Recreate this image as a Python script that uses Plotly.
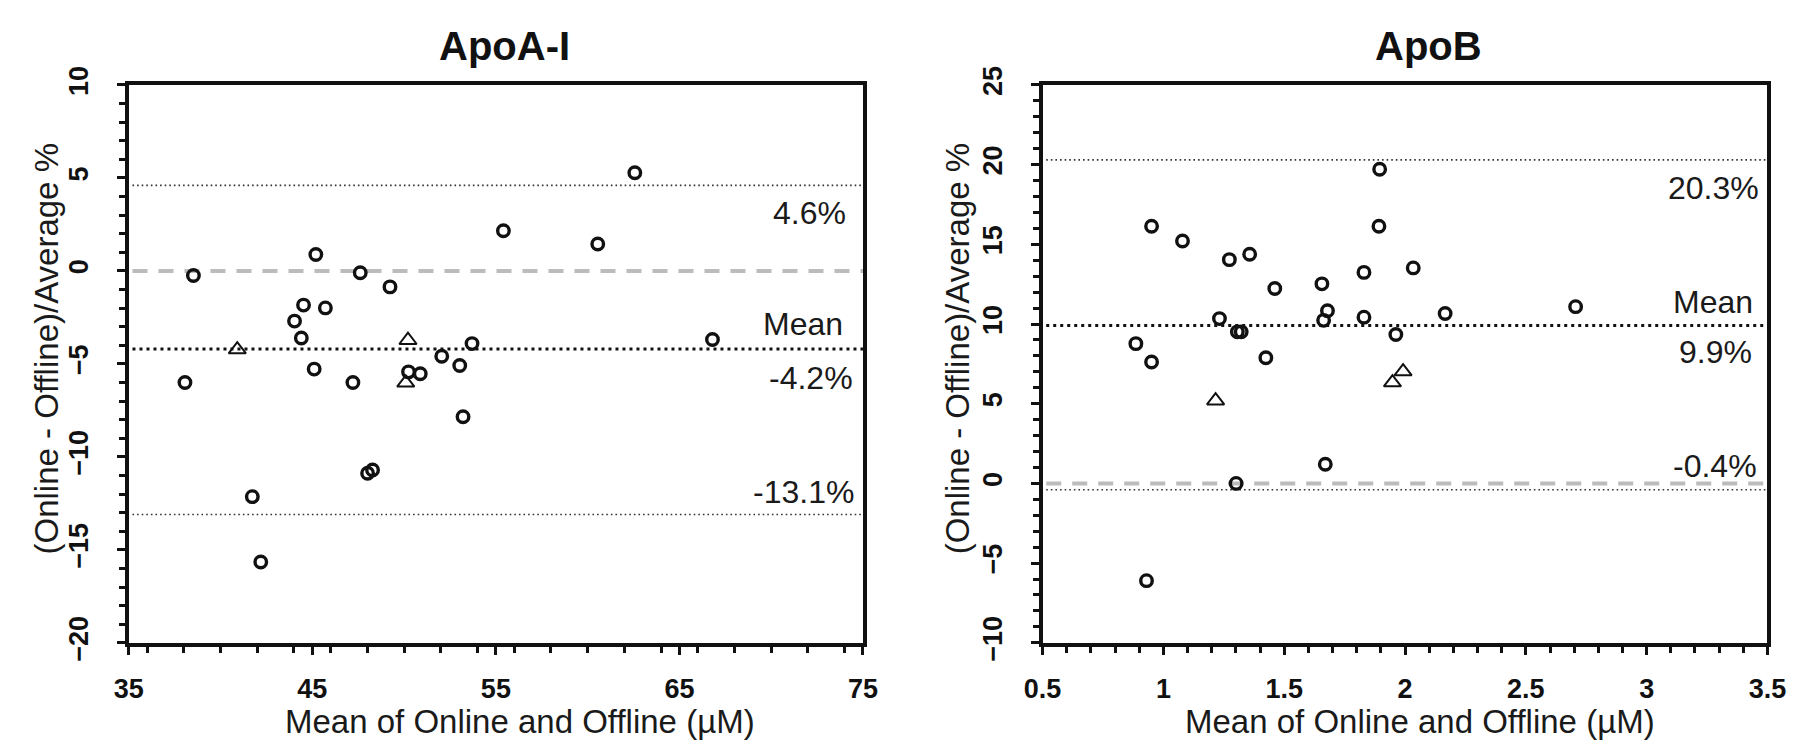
import plotly.graph_objects as go

# ---------------- data ----------------
# ApoA-I : circles
apoa_x = [38.06, 38.52, 41.73, 42.19, 44.03, 44.40, 44.52, 45.10, 45.19, 45.71,
          47.21, 47.61, 48.01, 48.28, 49.23, 50.24, 50.88, 52.05, 53.03, 53.21,
          53.70, 55.41, 60.55, 62.57, 66.80]
apoa_y = [-6.00, -0.25, -12.14, -15.65, -2.70, -3.61, -1.84, -5.28, 0.88, -1.99,
          -6.00, -0.10, -10.88, -10.71, -0.86, -5.43, -5.53, -4.59, -5.09, -7.84,
          -3.91, 2.16, 1.45, 5.28, -3.69]
# ApoA-I : triangles
apoa_tri_x = [40.91, 50.21, 50.09]
apoa_tri_y = [-4.23, -3.73, -6.02]
# ApoA-I : limits (upper, mean, lower)
apoa_upper, apoa_mean, apoa_lower = 4.6, -4.2, -13.1

# ApoB : circles
apob_x = [0.886, 0.930, 0.951, 0.951, 1.079, 1.232, 1.273, 1.301, 1.306, 1.322,
          1.357, 1.424, 1.461, 1.656, 1.663, 1.670, 1.679, 1.830, 1.830, 1.892,
          1.895, 1.962, 2.034, 2.166, 2.706]
apob_y = [8.77, -6.10, 16.13, 7.62, 15.21, 10.34, 14.04, 0.00, 9.51, 9.51,
          14.38, 7.88, 12.23, 12.52, 10.23, 1.20, 10.83, 13.24, 10.43, 16.13,
          19.71, 9.34, 13.52, 10.66, 11.09]
# ApoB : triangles
apob_tri_x = [1.216, 1.948, 1.992]
apob_tri_y = [5.19, 6.33, 7.02]
# ApoB : limits
apob_upper, apob_mean, apob_lower = 20.3, 9.9, -0.4

# ticks
apoa_xticks = [35, 45, 55, 65, 75]
apoa_yticks = [-20, -15, -10, -5, 0, 5, 10]
apob_xticks = [0.5, 1, 1.5, 2, 2.5, 3, 3.5]
apob_xticklabels = ["0.5", "1", "1.5", "2", "2.5", "3", "3.5"]
apob_yticks = [-10, -5, 0, 5, 10, 15, 20, 25]

titles = ["ApoA-I", "ApoB"]
x_title = "Mean of Online and Offline (µM)"
y_title = "(Online - Offline)/Average %"

# ---------------- figure ----------------
W, H = 1800, 754
FONT = "Liberation Sans, Arial, Helvetica, sans-serif"
INK = "#111111"

fig = go.Figure()

circle = dict(symbol="circle-open", size=11.5, color=INK, line=dict(width=3.4, color=INK))
tri = dict(symbol="triangle-up-open", size=15, color=INK, line=dict(width=2, color=INK))

fig.add_trace(go.Scatter(x=apoa_x, y=apoa_y, mode="markers", marker=circle,
                         xaxis="x", yaxis="y", showlegend=False))
fig.add_trace(go.Scatter(x=apoa_tri_x, y=apoa_tri_y, mode="markers", marker=tri,
                         xaxis="x", yaxis="y", showlegend=False))
fig.add_trace(go.Scatter(x=apob_x, y=apob_y, mode="markers", marker=circle,
                         xaxis="x2", yaxis="y2", showlegend=False))
fig.add_trace(go.Scatter(x=apob_tri_x, y=apob_tri_y, mode="markers", marker=tri,
                         xaxis="x2", yaxis="y2", showlegend=False))

def px_x(p):
    return p / W

def px_y(p):
    return 1 - p / H

top, bottom = 61, 648.5
axis_common = dict(
    showline=True, linewidth=4, linecolor=INK, mirror=True,
    ticks="outside", ticklen=8, tickwidth=3, tickcolor=INK,
    showgrid=False, zeroline=False,
    tickfont=dict(family=FONT, size=27, color=INK, weight="bold"),
)

fig.update_layout(
    width=W, height=H, autosize=False,
    margin=dict(l=0, r=0, t=0, b=0),
    plot_bgcolor="white", paper_bgcolor="white",
    font=dict(family=FONT, color=INK),
    xaxis=dict(domain=[px_x(104), px_x(854)], range=[35, 75], anchor="y",
               tickmode="array", tickvals=apoa_xticks, ticklabelstandoff=11,
               minor=dict(dtick=2, ticks="outside", ticklen=6, tickwidth=3, tickcolor=INK),
               **axis_common),
    yaxis=dict(domain=[px_y(bottom), px_y(top)], range=[-20, 10], anchor="x",
               tickmode="array", tickvals=apoa_yticks, tickangle=-90, ticklabelstandoff=18,
               minor=dict(dtick=1, ticks="outside", ticklen=6, tickwidth=3, tickcolor=INK),
               **axis_common),
    xaxis2=dict(domain=[px_x(1037.5), px_x(1778)], range=[0.5, 3.5], anchor="y2",
                tickmode="array", tickvals=apob_xticks, ticktext=apob_xticklabels,
                ticklabelstandoff=11,
                minor=dict(dtick=0.1, ticks="outside", ticklen=6, tickwidth=3, tickcolor=INK),
                **axis_common),
    yaxis2=dict(domain=[px_y(bottom), px_y(top)], range=[-10, 25], anchor="x2",
                tickmode="array", tickvals=apob_yticks, tickangle=-90, ticklabelstandoff=18,
                minor=dict(dtick=1, ticks="outside", ticklen=6, tickwidth=3, tickcolor=INK),
                **axis_common),
)

# reference lines
def hline(xref, yref, y, kind):
    if kind == "zero":
        line = dict(color="#bcbcbc", width=4, dash="15px,11px")
    elif kind == "mean":
        line = dict(color="#111111", width=3, dash="3px,4px")
    else:
        line = dict(color="#333333", width=1.6, dash="1.6px,3px")
    fig.add_shape(type="line", xref=xref + " domain", yref=yref, x0=0.005, x1=1,
                  y0=y, y1=y, line=line, layer="below")

# per-panel label offsets (pixels): (xshift, yshift) for upper, "Mean", mean %, lower
panels = [
    ("x", "y", apoa_upper, apoa_mean, apoa_lower,
     [(-15, -28), (-18, 25), (-8, -29), (-7, 23)]),
    ("x2", "y2", apob_upper, apob_mean, apob_lower,
     [(-6, -28), (-12, 24), (-13, -26), (-8, 24)]),
]
for xr, yr, up, mn, lo, offs in panels:
    hline(xr, yr, 0, "zero")
    hline(xr, yr, up, "limit")
    hline(xr, yr, lo, "limit")
    hline(xr, yr, mn, "mean")

    texts = [(f"{up:.1f}%", up), ("Mean", mn), (f"{mn:.1f}%", mn), (f"{lo:.1f}%", lo)]
    for (txt, yv), (dx, dy) in zip(texts, offs):
        fig.add_annotation(text=txt, xref=xr + " domain", yref=yr, x=1, y=yv,
                           xanchor="right", yanchor="middle", showarrow=False,
                           xshift=dx, yshift=dy,
                           font=dict(family=FONT, size=32, color="#1a1a1a"))

# titles and axis titles
title_font = dict(family=FONT, size=40, color=INK, weight="bold")
label_font = dict(family=FONT, size=33, color="#1a1a1a")
for cx, ycx, xtc, t in [(488, 20, 504, titles[0]), (1432, 950.5, 1423, titles[1])]:
    fig.add_annotation(text=t, xref="paper", yref="paper", x=px_x(cx), y=px_y(20),
                       xanchor="center", yanchor="middle", showarrow=False, font=title_font)
    fig.add_annotation(text=x_title, xref="paper", yref="paper", x=px_x(xtc), y=px_y(731.5),
                       xanchor="center", yanchor="middle", showarrow=False, font=label_font)
    fig.add_annotation(text=y_title, xref="paper", yref="paper", x=px_x(ycx), y=px_y(339),
                       xanchor="center", yanchor="middle", showarrow=False, textangle=-90,
                       font=label_font)

fig.write_html("out.html")
